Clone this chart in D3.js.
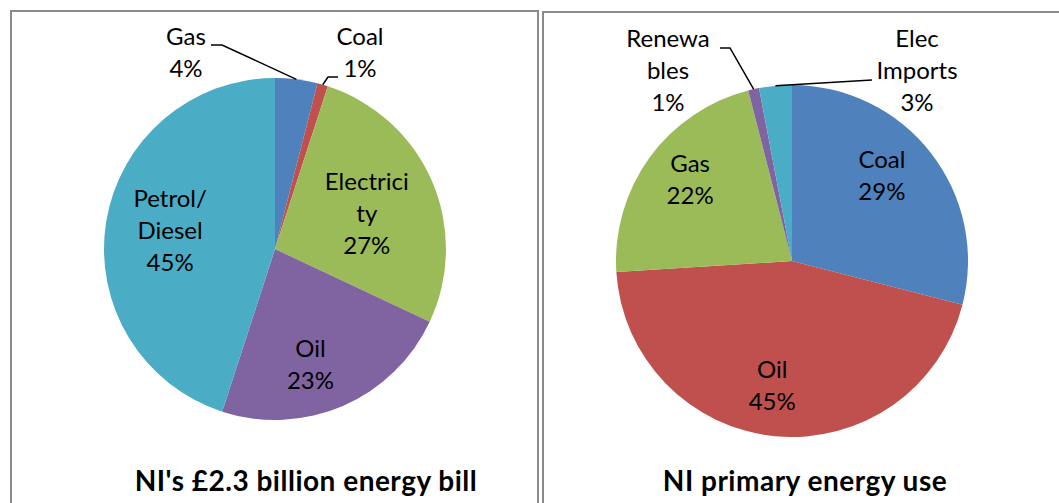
<!DOCTYPE html>
<html>
<head>
<meta charset="utf-8">
<script src="https://cdn.jsdelivr.net/npm/d3@7"></script>
<style>
  body { margin: 0; background: #fff; }
  text { font-family: Lato, "Open Sans", sans-serif; fill: #000; }
</style>
</head>
<body>
<div id="chart-area"></div>
<script>
// left chart: NI's energy bill
const billCategories = ["Gas", "Coal", "Electricity", "Oil", "Petrol/Diesel"];
const billValues = [4, 1, 27, 23, 45];
const billLabelLines = [["Gas"], ["Coal"], ["Electrici", "ty"], ["Oil"], ["Petrol/", "Diesel"]];
const billTitle = "NI's £2.3 billion energy bill";

// right chart: primary energy use
const useCategories = ["Coal", "Oil", "Gas", "Renewables", "Elec Imports"];
const useValues = [29, 45, 22, 1, 3];
const useLabelLines = [["Coal"], ["Oil"], ["Gas"], ["Renewa", "bles"], ["Elec", "Imports"]];
const useTitle = "NI primary energy use";

const billColors = ["#4F81BD", "#C0504D", "#9BBB59", "#8064A2", "#4BACC6"];
const useColors = ["#4F81BD", "#C0504D", "#9BBB59", "#8064A2", "#4BACC6"];

const chartSize = { width: 1059, height: 503 };
const lineGap = 32;

const svg = d3.select("#chart-area")
    .append("svg")
    .attr("width", chartSize.width)
    .attr("height", chartSize.height);

// chart frames
svg.append("rect").attr("x", 11).attr("y", 11).attr("width", 527).attr("height", 520)
    .attr("fill", "none").attr("stroke", "#8a8a8a").attr("stroke-width", 2);
svg.append("rect").attr("x", 543).attr("y", 12).attr("width", 540).attr("height", 520)
    .attr("fill", "none").attr("stroke", "#8a8a8a").attr("stroke-width", 2);

const drawPie = function (cfg) {
    const g = svg.append("g").attr("transform", `translate(${cfg.cx}, ${cfg.cy})`);
    const pie = d3.pie().sort(null).value(d => d);
    const arcs = pie(cfg.values);
    const arc = d3.arc().innerRadius(0).outerRadius(cfg.r);

    g.selectAll("path.slice")
        .data(arcs)
        .join("path")
        .attr("class", "slice")
        .attr("d", arc)
        .attr("fill", (d, i) => cfg.colors[i]);

    const writeLines = (sel, lines, x, y) => {
        const t = sel.append("text").attr("text-anchor", "middle").attr("font-size", 24);
        lines.forEach((s, k) => t.append("tspan").attr("x", x).attr("y", y + k * lineGap).text(s));
    };

    arcs.forEach((d, i) => {
        const lines = cfg.labelLines[i].concat([`${cfg.values[i]}%`]);
        const out = cfg.outside[i];
        if (!out) {
            // label inside slice, placed like excel's best fit
            const [f, deg] = cfg.labelPolar[i];
            const [x, y] = d3.pointRadial(deg * Math.PI / 180, cfg.r * f);
            const y0 = y - (lines.length - 1) * lineGap / 2 + 8;
            writeLines(g, lines, x, y0);
        } else {
            writeLines(g, lines, out.x, out.y);
            const mid = (d.startAngle + d.endAngle) / 2;
            const edge = d3.pointRadial(mid, cfg.r);
            const pts = [[out.lx, out.ly]];
            if (out.elbow) pts.push([out.lx + out.elbow, out.ly]);
            pts.push(edge);
            g.append("path")
                .attr("d", d3.line()(pts))
                .attr("fill", "none")
                .attr("stroke", "#000")
                .attr("stroke-width", 1.5);
        }
    });

    svg.append("text")
        .attr("x", cfg.titleX)
        .attr("y", 491)
        .attr("text-anchor", "middle")
        .attr("font-size", 28)
        .attr("letter-spacing", 0.5)
        .attr("font-weight", "bold")
        .text(cfg.title);
};

drawPie({
    cx: 275, cy: 249, r: 171,
    values: billValues, colors: billColors, labelLines: billLabelLines,
    labelPolar: [null, null, [0.575, 69], [0.71, 163], [0.623, 280]],
    outside: [
        { x: -89, y: -204, lx: -64, ly: -204, elbow: 11 },
        { x: 85, y: -204, lx: 63, ly: -172, elbow: -10 },
        null, null, null
    ],
    title: billTitle, titleX: 306
});

drawPie({
    cx: 792, cy: 261, r: 176,
    values: useValues, colors: useColors, labelLines: useLabelLines,
    labelPolar: [[0.703, 46.6], [0.719, 189], [0.74, 308.5], null, null],
    outside: [
        null, null, null,
        { x: -124, y: -214, lx: -72, ly: -213, elbow: 10 },
        { x: 125, y: -214, lx: 80, ly: -181, elbow: 0 }
    ],
    title: useTitle, titleX: 805
});
</script>
</body>
</html>
